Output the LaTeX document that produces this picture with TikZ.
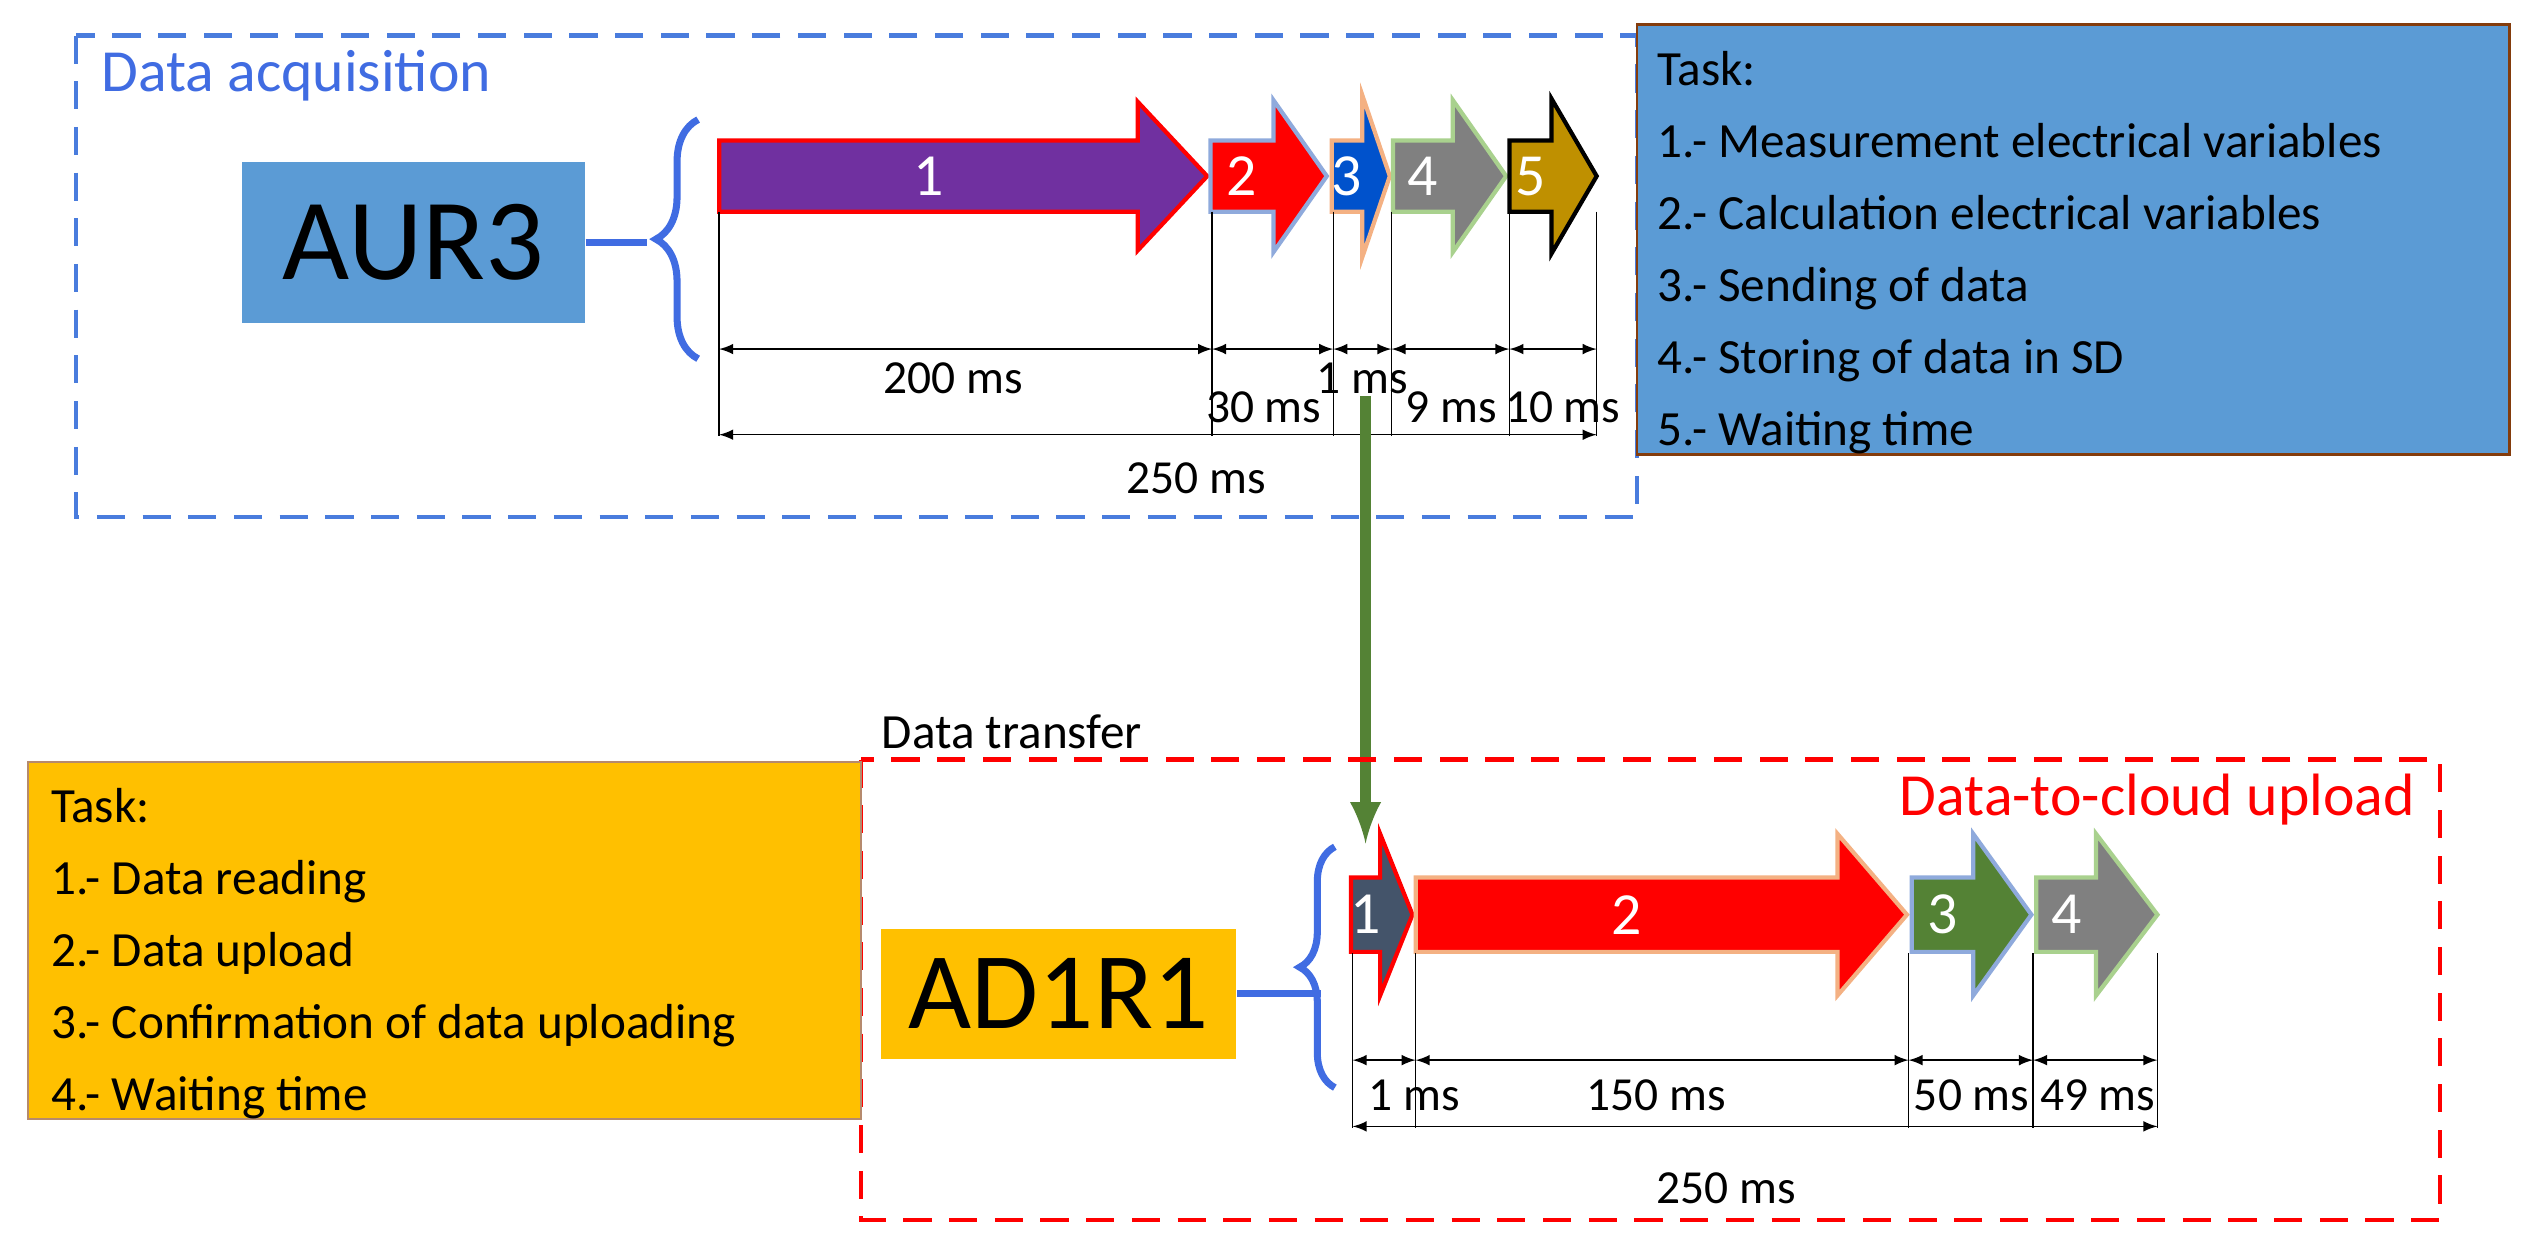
\documentclass[tikz,border=0pt]{standalone}
\usepackage{fontspec}
\setmainfont{Carlito}
\usetikzlibrary{arrows,positioning,decorations.pathreplacing}
\definecolor{boxblue}{HTML}{5B9BD5}
\definecolor{boxorange}{HTML}{FFC000}
\definecolor{darkgreen}{HTML}{548235}
\definecolor{purp}{HTML}{7030A0}
\definecolor{slate}{HTML}{44546A}
\definecolor{olive}{HTML}{BF9000}
\definecolor{lblue}{HTML}{8FAADC}
\definecolor{lorange}{HTML}{F4B183}
\definecolor{lgreen}{HTML}{A9D18E}
\definecolor{brbrown}{HTML}{843C0C}
\tikzstyle{dim} = [thin,<->,>=latex]
\tikzstyle{tick} = [thin]
\tikzstyle{tasktext} = [align=left,anchor=north west,font=\fontsize{14}{20.5}\selectfont]
\tikzstyle{dimlabel} = [font=\fontsize{13.5}{16}\selectfont]
% block arrow: name, x start, head start, tip, y centre, half body, half head, fill, border, label
\newcommand{\taskarrow}[9]{%
  \draw[fill=#7,draw=#8,line width=1.2pt] (#1,#4-#5) -- (#2,#4-#5) -- (#2,#4-#6) -- (#3,#4)
    -- (#2,#4+#6) -- (#2,#4+#5) -- (#1,#4+#5) -- cycle;
  \node[text=white,font=\fontsize{17}{20}\selectfont] at ({(#1+#2)/2},#4) {#9};}
\begin{document}
\begin{tikzpicture}[x=0.1616mm,y=-0.1616mm]
\useasboundingbox (0,0) rectangle (1568,773);

% data acquisition
\draw[boxblue!80!blue,dashed,line width=1.2pt,dash pattern=on 8pt off 5pt] (47,22) rectangle (1013,320);
\node[anchor=west,text=boxblue!70!blue,font=\fontsize{17}{20}\selectfont] (acq) at (55,47) {Data acquisition};
\node[fill=boxblue,minimum width=212*0.1616mm,minimum height=100*0.1616mm,font=\fontsize{33}{36}\selectfont] (aur) at (256,150) {AUR3};
\draw[decorate,decoration={brace,amplitude=12pt},draw=boxblue!70!blue,line width=2pt] (432,222) -- (432,74) coordinate[midway] (brA);
\draw[boxblue!70!blue,line width=2pt] (aur.east) -- ++(38,0);

\taskarrow{445}{704}{747}{109}{22}{46}{purp}{red}{1}
\taskarrow{749}{788}{821}{109}{22}{47}{red}{lblue}{2}
\taskarrow{824}{843}{860}{109}{22}{50}{blue!60!cyan!80!black}{lorange}{3}
\taskarrow{862}{899}{932}{109}{22}{47}{gray}{lgreen}{4}
\taskarrow{934}{960}{988}{109}{22}{48}{olive}{black}{5}

\foreach \n/\x in {a0/445,a1/750,a2/825,a3/861,a4/934,a5/988}{
  \coordinate (\n) at (\x,216);
  \draw[tick] (\x,131) -- (\x,270);}
\draw[dim] (a0) -- (a1);
\draw[dim] (a1) -- (a2);
\draw[dim] (a2) -- (a3);
\draw[dim] (a3) -- (a4);
\draw[dim] (a4) -- (a5);
\coordinate (t0) at (445,269);
\coordinate (t5) at (988,269);
\draw[dim] (t0) -- (t5);
\node[dimlabel] at (590,234) {200 ms};
\node[dimlabel] at (782,252) {30 ms};
\node[dimlabel] at (843,234) {1 ms};
\node[dimlabel] at (898,252) {9 ms};
\node[dimlabel] at (967,252) {10 ms};
\node[dimlabel] at (740,296) {250 ms};

\node[draw=brbrown,fill=boxblue,minimum width=540*0.1616mm,minimum height=266*0.1616mm,line width=0.8pt] (taskA) at (1283,148) {};
\node[tasktext] at (1018,24) {Task:\\1.- Measurement electrical variables\\2.- Calculation electrical variables\\3.- Sending of data\\4.- Storing of data in SD\\5.- Waiting time};

% data transfer
\coordinate (gs) at (845,245);
\coordinate (ge) at (845,522);
\draw[darkgreen,line width=3pt,-latex] (gs) -- (ge);
\node[anchor=west,font=\fontsize{14}{16}\selectfont] (trans) at (538,453) {Data transfer};

% data-to-cloud upload
\draw[red,dashed,line width=1.2pt,dash pattern=on 8pt off 5pt] (533,470) rectangle (1510,755);
\node[anchor=east,text=red,font=\fontsize{17}{20}\selectfont] (upl) at (1502,495) {Data-to-cloud upload};
\node[draw=brbrown!60,fill=boxorange,minimum width=515*0.1616mm,minimum height=221*0.1616mm,line width=0.6pt] (taskB) at (275,582) {};
\node[tasktext] at (24,480) {Task:\\1.- Data reading\\2.- Data upload\\3.- Confirmation of data uploading\\4.- Waiting time};
\node[fill=boxorange,minimum width=220*0.1616mm,minimum height=80*0.1616mm,font=\fontsize{31}{34}\selectfont] (ad) at (655,615) {AD1R1};
\draw[decorate,decoration={brace,amplitude=10pt},draw=boxblue!70!blue,line width=2pt] (826,673) -- (826,524) coordinate[midway] (brB);
\draw[boxblue!70!blue,line width=2pt] (ad.east) -- ++(52,0);

\taskarrow{836}{854}{874}{566}{23}{50}{slate}{red}{1}
\taskarrow{876}{1137}{1180}{566}{23}{50}{red}{lorange}{2}
\taskarrow{1183}{1221}{1257}{566}{23}{50}{darkgreen}{lblue}{3}
\taskarrow{1260}{1297}{1335}{566}{23}{50}{gray}{lgreen}{4}

\foreach \n/\x in {b0/837,b1/876,b2/1181,b3/1258,b4/1335}{
  \coordinate (\n) at (\x,656);
  \draw[tick] (\x,590) -- (\x,698);}
\draw[dim] (b0) -- (b1);
\draw[dim] (b1) -- (b2);
\draw[dim] (b2) -- (b3);
\draw[dim] (b3) -- (b4);
\coordinate (u0) at (837,697);
\coordinate (u4) at (1335,697);
\draw[dim] (u0) -- (u4);
\node[dimlabel] at (875,678) {1 ms};
\node[dimlabel] at (1025,678) {150 ms};
\node[dimlabel] at (1220,678) {50 ms};
\node[dimlabel] at (1298,678) {49 ms};
\node[dimlabel] at (1068,735) {250 ms};
\end{tikzpicture}
\end{document}
